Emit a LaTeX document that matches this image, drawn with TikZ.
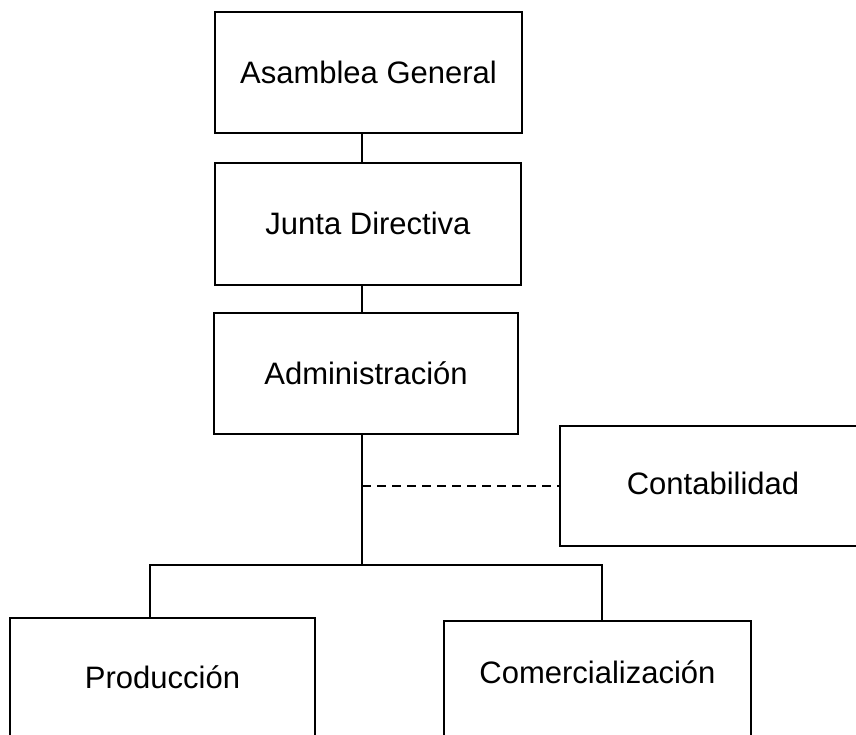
\documentclass[tikz,border=0pt]{standalone}
\usepackage{fontspec}
\setmainfont{Liberation Sans}
\begin{document}
\begin{tikzpicture}[x=1pt,y=-1pt,
  orgbox/.style={draw=black, line width=2pt, inner sep=0pt, align=center,
    font=\fontsize{31}{37}\selectfont, text height=22pt, text depth=0pt},
  link/.style={draw=black, line width=2pt},
  dashlink/.style={link, dash pattern=on 9pt off 6pt}]
\useasboundingbox (0,0) rectangle (856,735);
\clip (0,0) rectangle (856,735);
\fill[white] (0,0) rectangle (856,735);
\node[orgbox, minimum width=307pt, minimum height=121pt] (asamblea) at (368.5,72.5) {Asamblea General};
\node[orgbox, minimum width=306pt, minimum height=122pt] (junta) at (368,224) {Junta Directiva};
\node[orgbox, minimum width=304pt, minimum height=121pt] (admin) at (366,373.5) {Administración};
\node[orgbox, minimum width=306pt, minimum height=120pt, text depth=6pt] (contab) at (713,486) {Contabilidad};
\node[orgbox, minimum width=305pt, minimum height=130pt, text depth=12pt] (produccion) at (162.5,683) {Producción};
\node[orgbox, minimum width=307pt, minimum height=130pt, text depth=28pt] (comercial) at (597.5,686) {Comercialización};
\coordinate (spine) at (362,0);
\coordinate (bus) at (362,565);
\coordinate (busL) at (150,565);
\coordinate (busR) at (602,565);
\draw[link] (asamblea.south -| spine) -- (junta.north -| spine);
\draw[link] (junta.south -| spine) -- (admin.north -| spine);
\draw[link] (admin.south -| spine) -- (bus);
\draw[dashlink] (contab.west -| spine) -- (contab.west);
\draw[link] (busL |- produccion.north) -- (busL) -- (busR) -- (busR |- comercial.north);
\end{tikzpicture}
\end{document}
